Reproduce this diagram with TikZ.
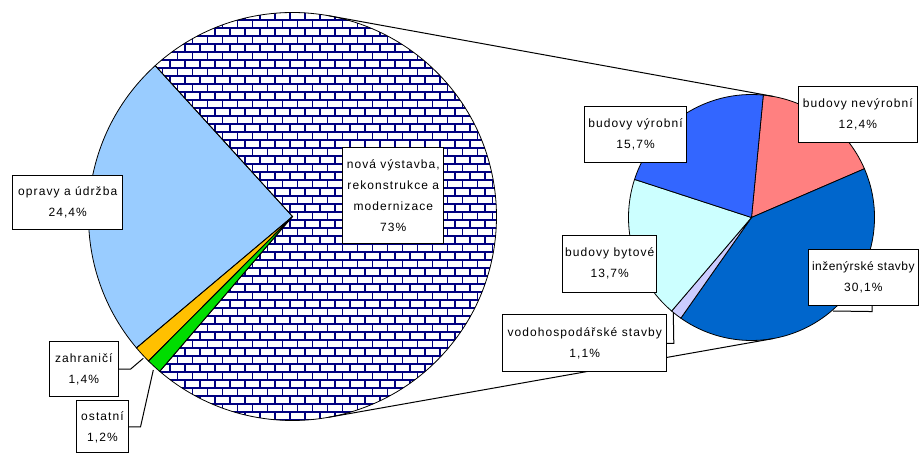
\documentclass[tikz,border=0pt]{standalone}
\usepackage{fontspec}
\setmainfont{Liberation Sans}[LetterSpace=9]
\definecolor{brickline}{HTML}{000080}
\definecolor{repairs}{HTML}{99CCFF}
\definecolor{abroad}{HTML}{FFC000}
\definecolor{other}{HTML}{00DD00}
\definecolor{nonprod}{HTML}{FF8080}
\definecolor{civil}{HTML}{0066CC}
\definecolor{water}{HTML}{CCCCFF}
\definecolor{housing}{HTML}{CCFFFF}
\definecolor{prod}{HTML}{3366FF}
\begin{document}
\begin{tikzpicture}[x=1pt,y=-1pt,
  lbl/.style={draw=black, line width=1pt, fill=white, align=center, inner sep=0pt,
    font=\fontsize{12}{21}\selectfont},
  edge/.style={draw=black, line width=0.8pt},
  leader/.style={draw=black, line width=1pt},
  series/.style={draw=black, line width=1pt}]
\useasboundingbox (0,0) rectangle (922,454);

% ---- main pie ----
\coordinate (L) at (292.5,216.5);
\def\rL{204}
\fill[repairs] (L) -- ++(-132.3:\rL) arc[start angle=-132.3, end angle=-220.1, radius=\rL] -- cycle;
\fill[abroad]  (L) -- ++(-220.1:\rL) arc[start angle=-220.1, end angle=-225.1, radius=\rL] -- cycle;
\fill[other]   (L) -- ++(-225.1:\rL) arc[start angle=-225.1, end angle=-229.4, radius=\rL] -- cycle;
\begin{scope}
  \clip (L) -- ++(-229.4:\rL) arc[start angle=-229.4, end angle=-492.3, radius=\rL] -- cycle;
  \fill[white] (80,8) rectangle (510,430);
  \draw[brickline, line width=1.5pt] foreach \k in {0,...,53} { (80,{12+8*\k}) -- (510,{12+8*\k}) };
  \foreach \k in {0,...,52} {
    \pgfmathsetmacro\off{mod(\k,2)*7.5}
    \draw[brickline, line width=1.5pt] foreach \j in {0,...,28} { ({80+\off+15*\j},{12+8*\k}) -- ++(0,8) };
  }
\end{scope}
\foreach \a/\b in {-132.3/-220.1, -220.1/-225.1, -225.1/-229.4, -229.4/-492.3}
  \path[edge] (L) -- ++(\a:\rL) arc[start angle=\a, end angle=\b, radius=\rL] -- cycle;

% ---- detail pie ----
\coordinate (R) at (751.5,217.5);
\def\rR{123}
\foreach \a/\b/\c in {-84.5/-23.35/nonprod, -23.35/125.07/civil, 125.07/130.49/water,
                      130.49/198.05/housing, 198.05/275.5/prod}
  \path[edge, fill=\c] (R) -- ++(\a:\rR) arc[start angle=\a, end angle=\b, radius=\rR] -- cycle;

% ---- series lines: common outer tangents of both pies ----
\coordinate (t1) at (328.5,15.7);
\coordinate (t2) at (773.2,96.4);
\coordinate (b1) at (328.5,417.3);
\coordinate (b2) at (773.2,338.6);
\draw[series] (t1) -- (t2);
\draw[series] (b1) -- (b2);

% ---- labels ----
\node[lbl, minimum width=110pt, minimum height=54pt] (rep) at (67.7,202.2) {opravy a údržba\\24,4\%};
\node[lbl, minimum width=101.3pt, minimum height=96pt] (new) at (393.3,195.3) {nová výstavba,\\rekonstrukce a\\modernizace\\73\%};
\node[lbl, minimum width=69pt, minimum height=55pt] (abr) at (83.8,369.2) {zahraničí\\1,4\%};
\node[lbl, minimum width=51.6pt, minimum height=52pt] (oth) at (102.5,427) {ostatní\\1,2\%};
\node[lbl, minimum width=102.4pt, minimum height=56pt] (prd) at (635.5,134.7) {budovy výrobní\\15,7\%};
\node[lbl, minimum width=119pt, minimum height=56pt] (npr) at (857.8,114.7) {budovy nevýrobní\\12,4\%};
\node[lbl, minimum width=94pt, minimum height=57.3pt] (hou) at (609.7,263.7) {budovy bytové\\13,7\%};
\node[lbl, minimum width=110pt, minimum height=55.7pt] (civ) at (863.3,277.2) {{\addfontfeature{LetterSpace=4}inženýrské stavby}\\30,1\%};
\node[lbl, minimum width=164pt, minimum height=56.7pt] (wat) at (584.7,343.3) {vodohospodářské stavby\\1,1\%};

% ---- leaders ----
\coordinate (abrTip) at (143.3,358.3);
\coordinate (othTip) at (153.3,370);
\coordinate (watTip) at (673.3,313);
\coordinate (civTip) at (833,311);
\draw[leader] (abr.east) -- ++(11.7,0) -- (abrTip);
\draw[leader] (oth.east) -- ++(11.7,0) -- (othTip);
\draw[leader] (wat.east) -- ++(6.6,0) -- (watTip);
\draw[leader] (civ.south -| 872,0) -- ++(0,6) -- (civTip);
\end{tikzpicture}
\end{document}
